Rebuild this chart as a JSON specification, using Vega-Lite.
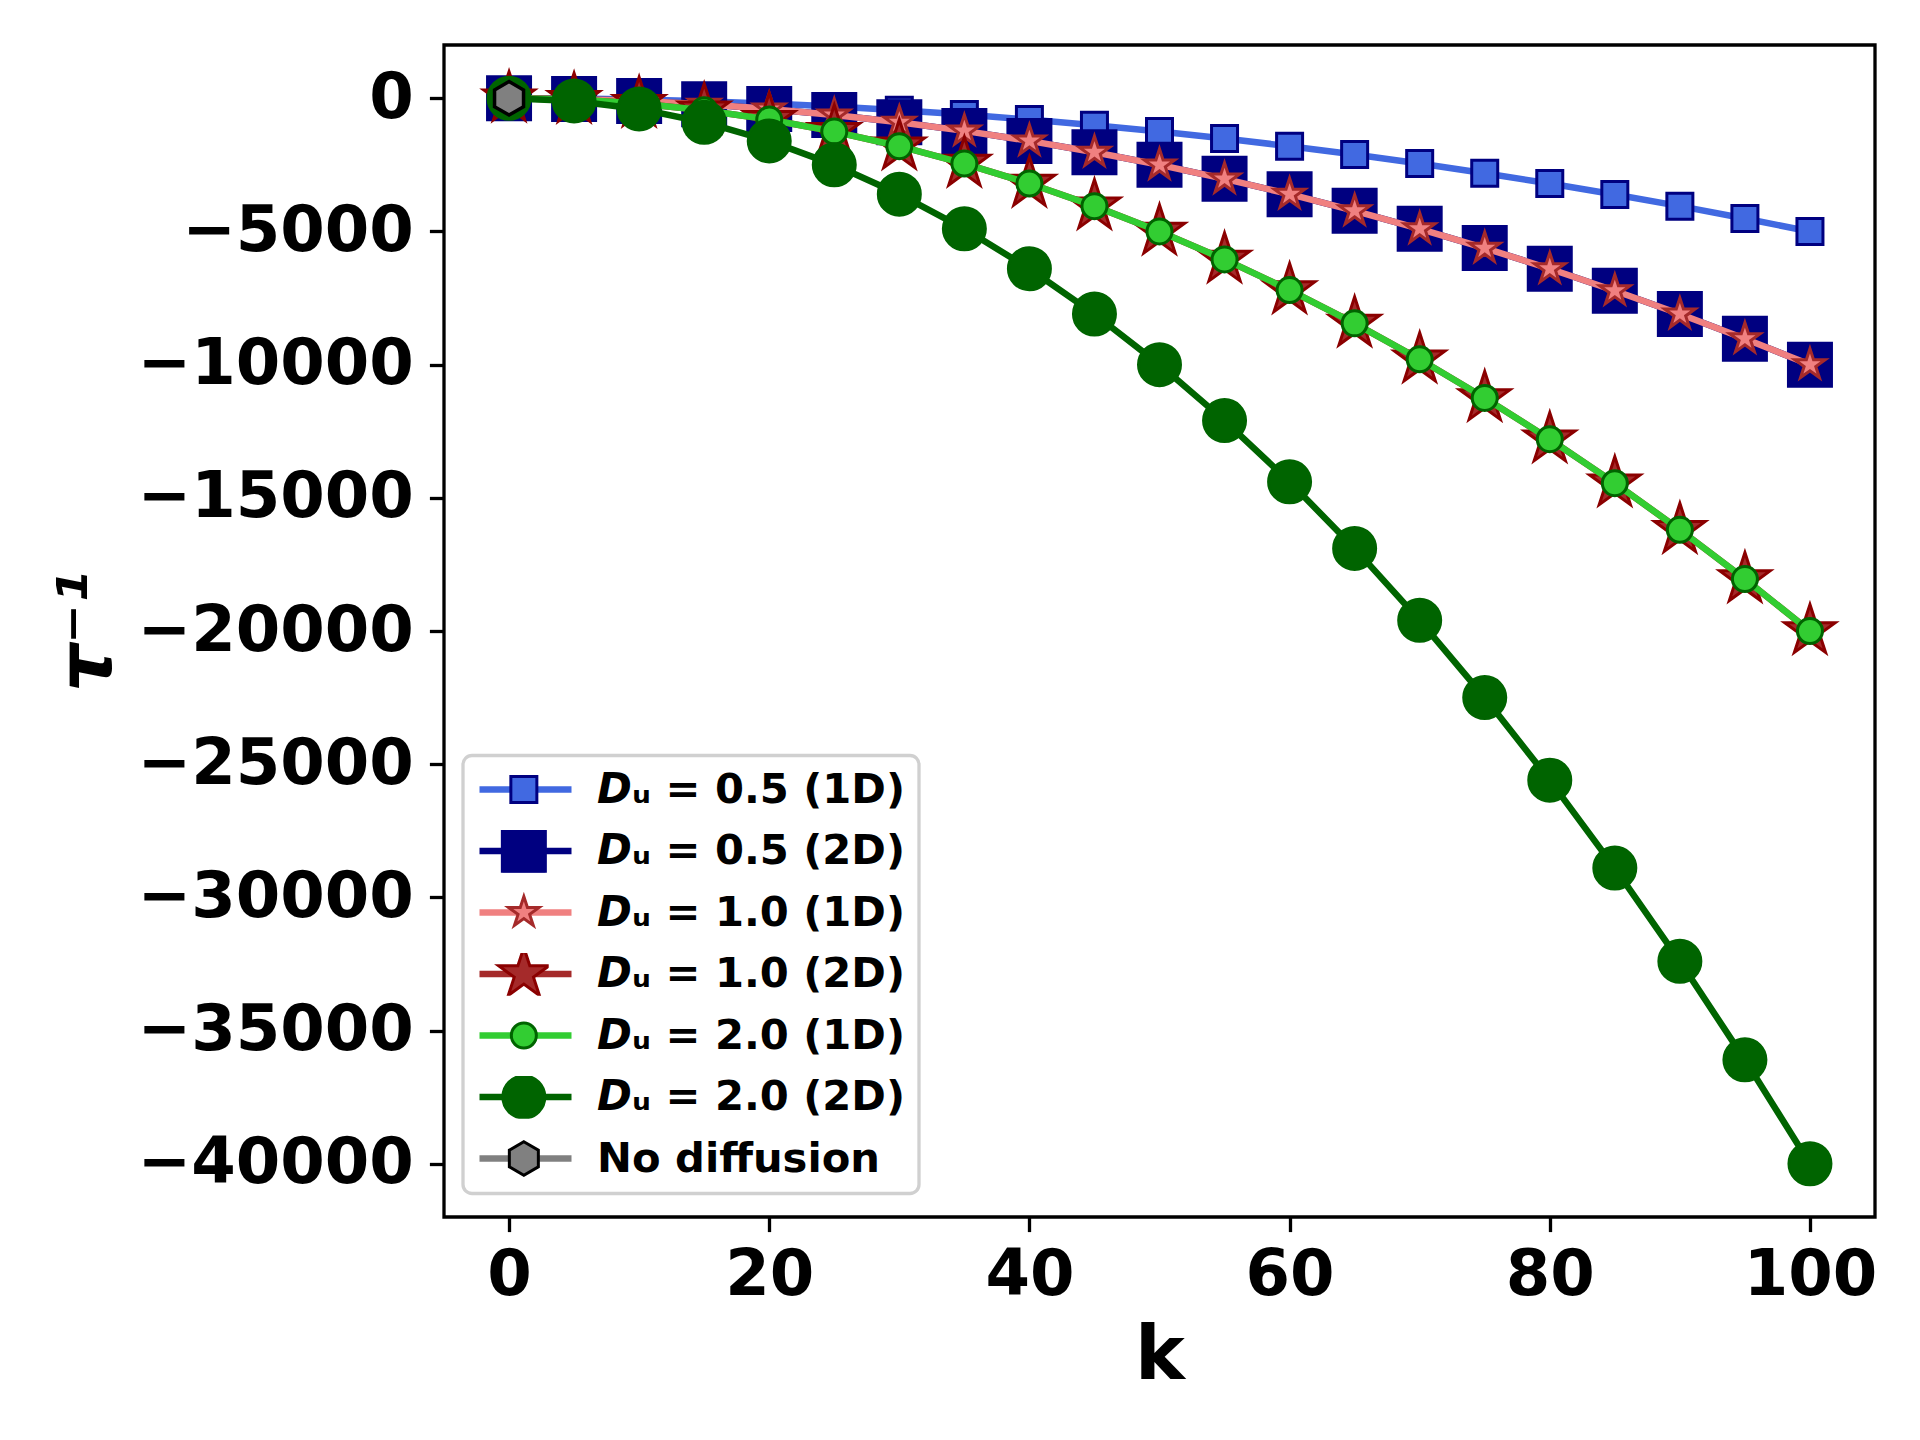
{
  "$schema": "https://vega.github.io/schema/vega-lite/v6.json",
  "width": 1431,
  "height": 1172,
  "autosize": {"type": "none"},
  "padding": {"left": 444, "top": 45, "right": 45, "bottom": 223},
  "background": "white",
  "data": {
    "values": [
      {"series": "0.5 (1D)", "k": 0, "tau": 0}, {"series": "0.5 (1D)", "k": 5, "tau": -12.5}, {"series": "0.5 (1D)", "k": 10, "tau": -50},
      {"series": "0.5 (1D)", "k": 15, "tau": -112.5}, {"series": "0.5 (1D)", "k": 20, "tau": -200}, {"series": "0.5 (1D)", "k": 25, "tau": -312.5},
      {"series": "0.5 (1D)", "k": 30, "tau": -450}, {"series": "0.5 (1D)", "k": 35, "tau": -612.5}, {"series": "0.5 (1D)", "k": 40, "tau": -800},
      {"series": "0.5 (1D)", "k": 45, "tau": -1012.5}, {"series": "0.5 (1D)", "k": 50, "tau": -1250}, {"series": "0.5 (1D)", "k": 55, "tau": -1512.5},
      {"series": "0.5 (1D)", "k": 60, "tau": -1800}, {"series": "0.5 (1D)", "k": 65, "tau": -2112.5}, {"series": "0.5 (1D)", "k": 70, "tau": -2450},
      {"series": "0.5 (1D)", "k": 75, "tau": -2812.5}, {"series": "0.5 (1D)", "k": 80, "tau": -3200}, {"series": "0.5 (1D)", "k": 85, "tau": -3612.5},
      {"series": "0.5 (1D)", "k": 90, "tau": -4050}, {"series": "0.5 (1D)", "k": 95, "tau": -4512.5}, {"series": "0.5 (1D)", "k": 100, "tau": -5000},
      {"series": "0.5 (2D)", "k": 0, "tau": 0}, {"series": "0.5 (2D)", "k": 5, "tau": -25}, {"series": "0.5 (2D)", "k": 10, "tau": -100},
      {"series": "0.5 (2D)", "k": 15, "tau": -225}, {"series": "0.5 (2D)", "k": 20, "tau": -400}, {"series": "0.5 (2D)", "k": 25, "tau": -625},
      {"series": "0.5 (2D)", "k": 30, "tau": -900}, {"series": "0.5 (2D)", "k": 35, "tau": -1225}, {"series": "0.5 (2D)", "k": 40, "tau": -1600},
      {"series": "0.5 (2D)", "k": 45, "tau": -2025}, {"series": "0.5 (2D)", "k": 50, "tau": -2500}, {"series": "0.5 (2D)", "k": 55, "tau": -3025},
      {"series": "0.5 (2D)", "k": 60, "tau": -3600}, {"series": "0.5 (2D)", "k": 65, "tau": -4225}, {"series": "0.5 (2D)", "k": 70, "tau": -4900},
      {"series": "0.5 (2D)", "k": 75, "tau": -5625}, {"series": "0.5 (2D)", "k": 80, "tau": -6400}, {"series": "0.5 (2D)", "k": 85, "tau": -7225},
      {"series": "0.5 (2D)", "k": 90, "tau": -8100}, {"series": "0.5 (2D)", "k": 95, "tau": -9025}, {"series": "0.5 (2D)", "k": 100, "tau": -10000},
      {"series": "1.0 (1D)", "k": 0, "tau": 0}, {"series": "1.0 (1D)", "k": 5, "tau": -25}, {"series": "1.0 (1D)", "k": 10, "tau": -100},
      {"series": "1.0 (1D)", "k": 15, "tau": -225}, {"series": "1.0 (1D)", "k": 20, "tau": -400}, {"series": "1.0 (1D)", "k": 25, "tau": -625},
      {"series": "1.0 (1D)", "k": 30, "tau": -900}, {"series": "1.0 (1D)", "k": 35, "tau": -1225}, {"series": "1.0 (1D)", "k": 40, "tau": -1600},
      {"series": "1.0 (1D)", "k": 45, "tau": -2025}, {"series": "1.0 (1D)", "k": 50, "tau": -2500}, {"series": "1.0 (1D)", "k": 55, "tau": -3025},
      {"series": "1.0 (1D)", "k": 60, "tau": -3600}, {"series": "1.0 (1D)", "k": 65, "tau": -4225}, {"series": "1.0 (1D)", "k": 70, "tau": -4900},
      {"series": "1.0 (1D)", "k": 75, "tau": -5625}, {"series": "1.0 (1D)", "k": 80, "tau": -6400}, {"series": "1.0 (1D)", "k": 85, "tau": -7225},
      {"series": "1.0 (1D)", "k": 90, "tau": -8100}, {"series": "1.0 (1D)", "k": 95, "tau": -9025}, {"series": "1.0 (1D)", "k": 100, "tau": -10000},
      {"series": "1.0 (2D)", "k": 0, "tau": 0}, {"series": "1.0 (2D)", "k": 5, "tau": -50}, {"series": "1.0 (2D)", "k": 10, "tau": -200},
      {"series": "1.0 (2D)", "k": 15, "tau": -450}, {"series": "1.0 (2D)", "k": 20, "tau": -800}, {"series": "1.0 (2D)", "k": 25, "tau": -1250},
      {"series": "1.0 (2D)", "k": 30, "tau": -1800}, {"series": "1.0 (2D)", "k": 35, "tau": -2450}, {"series": "1.0 (2D)", "k": 40, "tau": -3200},
      {"series": "1.0 (2D)", "k": 45, "tau": -4050}, {"series": "1.0 (2D)", "k": 50, "tau": -5000}, {"series": "1.0 (2D)", "k": 55, "tau": -6050},
      {"series": "1.0 (2D)", "k": 60, "tau": -7200}, {"series": "1.0 (2D)", "k": 65, "tau": -8450}, {"series": "1.0 (2D)", "k": 70, "tau": -9800},
      {"series": "1.0 (2D)", "k": 75, "tau": -11250}, {"series": "1.0 (2D)", "k": 80, "tau": -12800}, {"series": "1.0 (2D)", "k": 85, "tau": -14450},
      {"series": "1.0 (2D)", "k": 90, "tau": -16200}, {"series": "1.0 (2D)", "k": 95, "tau": -18050}, {"series": "1.0 (2D)", "k": 100, "tau": -20000},
      {"series": "2.0 (1D)", "k": 0, "tau": 0}, {"series": "2.0 (1D)", "k": 5, "tau": -50}, {"series": "2.0 (1D)", "k": 10, "tau": -200},
      {"series": "2.0 (1D)", "k": 15, "tau": -450}, {"series": "2.0 (1D)", "k": 20, "tau": -800}, {"series": "2.0 (1D)", "k": 25, "tau": -1250},
      {"series": "2.0 (1D)", "k": 30, "tau": -1800}, {"series": "2.0 (1D)", "k": 35, "tau": -2450}, {"series": "2.0 (1D)", "k": 40, "tau": -3200},
      {"series": "2.0 (1D)", "k": 45, "tau": -4050}, {"series": "2.0 (1D)", "k": 50, "tau": -5000}, {"series": "2.0 (1D)", "k": 55, "tau": -6050},
      {"series": "2.0 (1D)", "k": 60, "tau": -7200}, {"series": "2.0 (1D)", "k": 65, "tau": -8450}, {"series": "2.0 (1D)", "k": 70, "tau": -9800},
      {"series": "2.0 (1D)", "k": 75, "tau": -11250}, {"series": "2.0 (1D)", "k": 80, "tau": -12800}, {"series": "2.0 (1D)", "k": 85, "tau": -14450},
      {"series": "2.0 (1D)", "k": 90, "tau": -16200}, {"series": "2.0 (1D)", "k": 95, "tau": -18050}, {"series": "2.0 (1D)", "k": 100, "tau": -20000},
      {"series": "2.0 (2D)", "k": 0, "tau": 0}, {"series": "2.0 (2D)", "k": 5, "tau": -100}, {"series": "2.0 (2D)", "k": 10, "tau": -400},
      {"series": "2.0 (2D)", "k": 15, "tau": -900}, {"series": "2.0 (2D)", "k": 20, "tau": -1600}, {"series": "2.0 (2D)", "k": 25, "tau": -2500},
      {"series": "2.0 (2D)", "k": 30, "tau": -3600}, {"series": "2.0 (2D)", "k": 35, "tau": -4900}, {"series": "2.0 (2D)", "k": 40, "tau": -6400},
      {"series": "2.0 (2D)", "k": 45, "tau": -8100}, {"series": "2.0 (2D)", "k": 50, "tau": -10000}, {"series": "2.0 (2D)", "k": 55, "tau": -12100},
      {"series": "2.0 (2D)", "k": 60, "tau": -14400}, {"series": "2.0 (2D)", "k": 65, "tau": -16900}, {"series": "2.0 (2D)", "k": 70, "tau": -19600},
      {"series": "2.0 (2D)", "k": 75, "tau": -22500}, {"series": "2.0 (2D)", "k": 80, "tau": -25600}, {"series": "2.0 (2D)", "k": 85, "tau": -28900},
      {"series": "2.0 (2D)", "k": 90, "tau": -32400}, {"series": "2.0 (2D)", "k": 95, "tau": -36100}, {"series": "2.0 (2D)", "k": 100, "tau": -40000},
      {"series": "No diffusion", "k": 0, "tau": 0}
    ]
  },
  "encoding": {
    "x": {
      "field": "k", "type": "quantitative",
      "scale": {"domain": [-5, 105], "nice": false, "zero": false},
      "axis": {"values": [0, 20, 40, 60, 80, 100], "title": "k", "titlePadding": 12}
    },
    "y": {
      "field": "tau", "type": "quantitative",
      "scale": {"domain": [-42000, 2000], "nice": false},
      "axis": {
        "values": [0, -5000, -10000, -15000, -20000, -25000, -30000, -35000, -40000],
        "format": "d", "title": "τ⁻¹", "titleFontStyle": "italic", "titleX": -318
      }
    }
  },
  "layer": [
    {
      "transform": [{"filter": "datum.series === '0.5 (1D)'"}],
      "layer": [
        {
          "mark": {"type": "line", "strokeWidth": 6.5},
          "encoding": {
            "color": {
              "field": "series", "type": "nominal",
              "scale": {
                "domain": ["0.5 (1D)", "0.5 (2D)", "1.0 (1D)", "1.0 (2D)", "2.0 (1D)", "2.0 (2D)", "No diffusion"],
                "range": ["#4169e1", "#000080", "#f08080", "#a52a2a", "#32cd32", "#006400", "#808080"]
              },
              "legend": {
                "title": null, "orient": "none", "legendX": 19, "legendY": 710.5,
                "symbolType": "stroke", "symbolSize": 8464, "symbolStrokeWidth": 6.5,
                "clipHeight": 42, "rowPadding": 18.5, "padding": 13,
                "labelOffset": 22, "labelFontSize": 41.7, "labelFontWeight": "bold", "labelColor": "black",
                "labelLimit": 0,
                "labelExpr": "datum.label === 'No diffusion' ? datum.label : '𝘿ᵤ = ' + datum.label",
                "fillColor": "white", "strokeColor": "#d0d0d0", "cornerRadius": 9,
                "encode": {"legend": {"update": {"strokeWidth": {"value": 3.3}}}}
              }
            }
          }
        },
        {
          "mark": {"type": "point", "filled": true, "size": 4, "strokeWidth": 3, "opacity": 1},
          "encoding": {
            "fill": {
              "field": "series", "type": "nominal",
              "scale": {"range": ["#4169e1", "#000080", "#f08080", "#a52a2a", "#32cd32", "#006400", "#808080"]},
              "legend": {
                "title": null, "orient": "none", "legendX": 19, "legendY": 710.5,
                "symbolSize": 4, "symbolStrokeWidth": 3, "symbolOffset": 27,
                "clipHeight": 42, "rowPadding": 18.5, "padding": 13,
                "labelExpr": "''", "labelFontSize": 41.7, "labelLimit": 0
              }
            },
            "stroke": {
              "field": "series", "type": "nominal",
              "scale": {"range": ["#000080", "#000080", "#a52a2a", "#8b0000", "#006400", "#006400", "#000000"]}
            },
            "shape": {
              "field": "series", "type": "nominal",
              "scale": {"range": [
                "M-13,-13H13V13H-13Z",
                "M-21.5,-21.5H21.5V21.5H-21.5Z",
                "M0,-16L3.59,-4.94L15.22,-4.94L5.81,1.89L9.41,12.94L0,6.11L-9.41,12.94L-5.81,1.89L-15.22,-4.94L-3.59,-4.94Z",
                "M0,-26.5L5.95,-8.19L25.2,-8.19L9.62,3.13L15.58,21.44L0,10.12L-15.58,21.44L-9.62,3.13L-25.2,-8.19L-5.95,-8.19Z",
                "M-12.5,0A12.5,12.5,0,1,0,12.5,0A12.5,12.5,0,1,0,-12.5,0Z",
                "M-21,0A21,21,0,1,0,21,0A21,21,0,1,0,-21,0Z",
                "M0,-16.75L14.5,-8.38L14.5,8.38L0,16.75L-14.5,8.38L-14.5,-8.38Z"
              ]}
            }
          }
        }
      ]
    },
    {
      "transform": [{"filter": "datum.series === '0.5 (2D)'"}],
      "layer": [
        {"mark": {"type": "line", "strokeWidth": 6.5}, "encoding": {"color": {"field": "series", "type": "nominal"}}},
        {"mark": {"type": "point", "filled": true, "size": 4, "strokeWidth": 3, "opacity": 1},
         "encoding": {"fill": {"field": "series", "type": "nominal"}, "stroke": {"field": "series", "type": "nominal"}, "shape": {"field": "series", "type": "nominal"}}}
      ]
    },
    {
      "transform": [{"filter": "datum.series === '1.0 (1D)'"}],
      "layer": [
        {"mark": {"type": "line", "strokeWidth": 6.5}, "encoding": {"color": {"field": "series", "type": "nominal"}}},
        {"mark": {"type": "point", "filled": true, "size": 4, "strokeWidth": 3, "opacity": 1},
         "encoding": {"fill": {"field": "series", "type": "nominal"}, "stroke": {"field": "series", "type": "nominal"}, "shape": {"field": "series", "type": "nominal"}}}
      ]
    },
    {
      "transform": [{"filter": "datum.series === '1.0 (2D)'"}],
      "layer": [
        {"mark": {"type": "line", "strokeWidth": 6.5}, "encoding": {"color": {"field": "series", "type": "nominal"}}},
        {"mark": {"type": "point", "filled": true, "size": 4, "strokeWidth": 3, "opacity": 1},
         "encoding": {"fill": {"field": "series", "type": "nominal"}, "stroke": {"field": "series", "type": "nominal"}, "shape": {"field": "series", "type": "nominal"}}}
      ]
    },
    {
      "transform": [{"filter": "datum.series === '2.0 (1D)'"}],
      "layer": [
        {"mark": {"type": "line", "strokeWidth": 6.5}, "encoding": {"color": {"field": "series", "type": "nominal"}}},
        {"mark": {"type": "point", "filled": true, "size": 4, "strokeWidth": 3, "opacity": 1},
         "encoding": {"fill": {"field": "series", "type": "nominal"}, "stroke": {"field": "series", "type": "nominal"}, "shape": {"field": "series", "type": "nominal"}}}
      ]
    },
    {
      "transform": [{"filter": "datum.series === '2.0 (2D)'"}],
      "layer": [
        {"mark": {"type": "line", "strokeWidth": 6.5}, "encoding": {"color": {"field": "series", "type": "nominal"}}},
        {"mark": {"type": "point", "filled": true, "size": 4, "strokeWidth": 3, "opacity": 1},
         "encoding": {"fill": {"field": "series", "type": "nominal"}, "stroke": {"field": "series", "type": "nominal"}, "shape": {"field": "series", "type": "nominal"}}}
      ]
    },
    {
      "transform": [{"filter": "datum.series === 'No diffusion'"}],
      "layer": [
        {"mark": {"type": "line", "strokeWidth": 6.5}, "encoding": {"color": {"field": "series", "type": "nominal"}}},
        {"mark": {"type": "point", "filled": true, "size": 4, "strokeWidth": 3.5, "opacity": 1},
         "encoding": {"fill": {"field": "series", "type": "nominal"}, "stroke": {"field": "series", "type": "nominal"}, "shape": {"field": "series", "type": "nominal"}}}
      ]
    }
  ],
  "config": {
    "font": "DejaVu Sans",
    "view": {"stroke": "black", "strokeWidth": 3.3},
    "axis": {
      "domain": false, "grid": false,
      "ticks": true, "tickColor": "black", "tickWidth": 3.3, "tickSize": 14.6,
      "labelFont": "DejaVu Sans", "labelFontSize": 64, "labelFontWeight": "bold", "labelColor": "black",
      "labelPadding": 12, "labelFlush": false, "labelOverlap": false, "labelLimit": 0,
      "titleFont": "DejaVu Sans", "titleFontSize": 75, "titleFontWeight": "bold", "titleColor": "black"
    },
    "axisY": {"labelPadding": 16}
  }
}
